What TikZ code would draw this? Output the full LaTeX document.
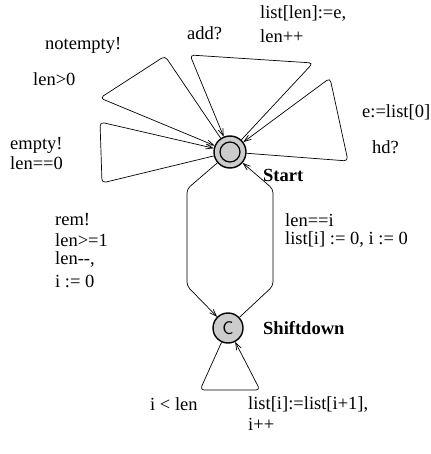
\documentclass[tikz,border=0pt]{standalone}
\usepackage{fontspec}
\setmainfont{Liberation Serif}
\usetikzlibrary{arrows.meta}

\begin{document}
\begin{tikzpicture}[x=1pt, y=-1pt, >={Straight Barb[length=7pt,width=5pt]},
  every node/.style={font=\fontsize{18.5}{21}\selectfont},
  loc/.style={circle, draw, line width=1.4pt, fill=black!20, minimum size=31pt, inner sep=0pt},
  initial/.style={path picture={\draw[line width=1.2pt] (path picture bounding box.center) circle (10pt);}},
  lbl/.style={anchor=west, inner sep=0pt},
  edge/.style={->, line width=0.7pt, rounded corners=4pt}]
  \useasboundingbox (0,0) rectangle (430,454);

  % Locations
  \node[loc, initial, minimum size=32pt] (start) at (230,152) {};
  \node[loc, minimum size=30pt] (shift) at (228,328) {\textsf{C}};
  \node[lbl, font=\fontsize{18.5}{21}\selectfont\bfseries] (startname) at (263,175) {Start};
  \node[lbl, font=\fontsize{18.5}{21}\selectfont\bfseries] (shiftname) at (263,328) {Shiftdown};

  % Self loops on Start
  \draw[edge] (start) -- (165,56) -- (100,98) -- (start);
  \draw[edge] (start) -- (313,63) -- (190,55) -- (start);
  \draw[edge] (start) -- (348,161) -- (330,78) -- (start);
  \draw[edge] (start) -- (102,183) -- (100,122) -- (start);

  % Start <-> Shiftdown
  \draw[edge] (start) -- (187,189) -- (187,286) -- (shift);
  \draw[edge] (shift) -- (273,286) -- (273,189) -- (start);

  % Self loop on Shiftdown
  \draw[edge] (shift) -- (200,390) -- (260,390) -- (shift);

  % Labels
  \node[lbl] (notempty) at (45,45) {notempty!};
  \node[lbl] (lenpos) at (33,79) {len>0};
  \node[lbl] (add) at (187,33) {add?};
  \node[lbl] (addset) at (260,14) {list[len]:=e,};
  \node[lbl] (addinc) at (260,36) {len++};
  \node[lbl] (hdset) at (362,112) {e:=list[0]};
  \node[lbl] (hd) at (372,147) {hd?};
  \node[lbl] (empty) at (10,145) {empty!};
  \node[lbl] (lenzero) at (10,163) {len==0};
  \node[lbl] (rem) at (55,220) {rem!};
  \node[lbl] (remguard) at (55,240) {len>=1};
  \node[lbl] (remdec) at (55,260) {len{-}{-},};
  \node[lbl] (remreset) at (55,281) {i := 0};
  \node[lbl] (doneguard) at (285,220) {len==i};
  \node[lbl] (doneset) at (285,240) {list[i] := 0, i := 0};
  \node[lbl] (shguard) at (150,404) {i < len};
  \node[lbl] (shset) at (248,404) {list[i]:=list[i+1],};
  \node[lbl] (shinc) at (248,424) {i++};
\end{tikzpicture}
\end{document}
